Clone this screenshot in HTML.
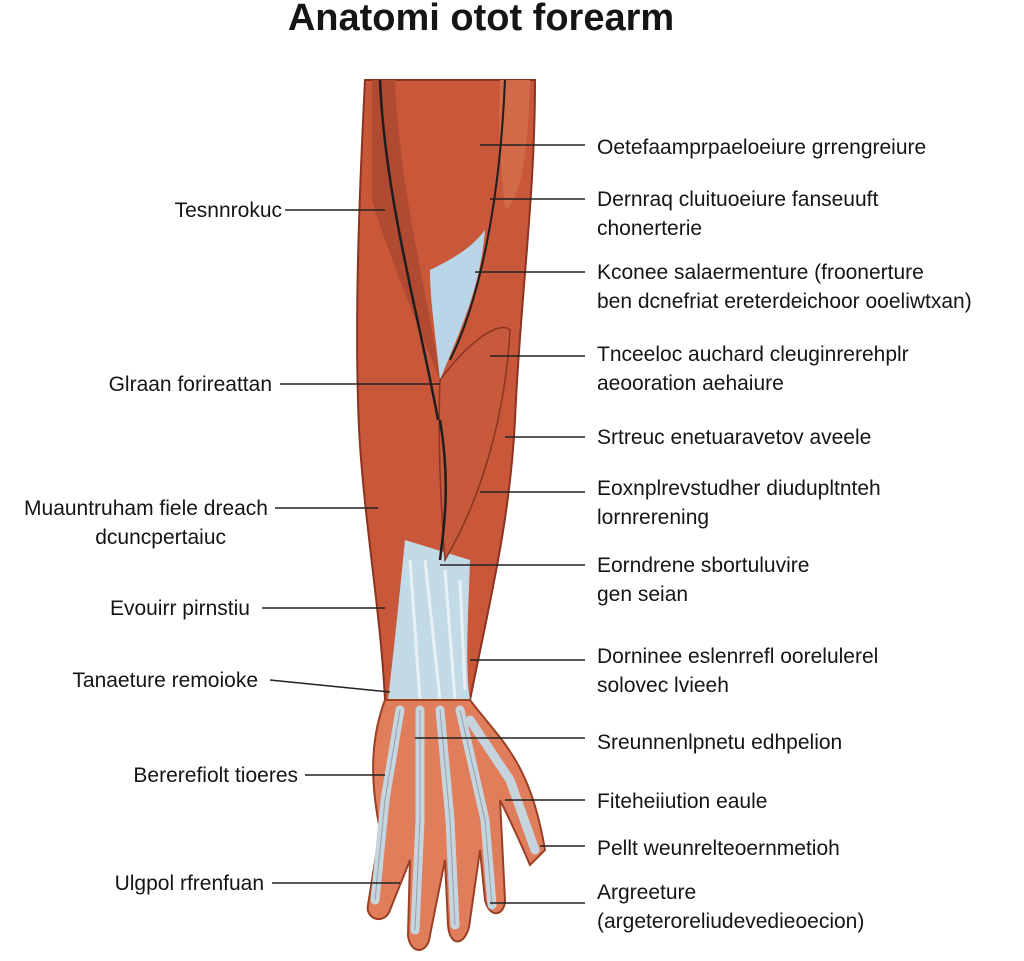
<!DOCTYPE html>
<html><head><meta charset="utf-8"><style>
html,body{margin:0;padding:0;background:#fff;}
body{width:1024px;height:956px;overflow:hidden;}
svg text{font-family:"Liberation Sans",sans-serif;fill:#151515;}
</style></head><body>
<svg width="1024" height="956" viewBox="0 0 1024 956" xmlns="http://www.w3.org/2000/svg">
<text x="481" y="30" font-size="38" font-weight="bold" text-anchor="middle">Anatomi otot forearm</text>
<path d="M365,80 L535,80 C535,200 520,300 515,420 C510,520 490,600 470,700 L385,700 C380,600 360,500 358,400 C355,300 360,180 365,80 Z" fill="#c9573a" stroke="#8a3422" stroke-width="2"/>
<path d="M372,80 L395,80 C400,200 430,300 440,380 C420,330 390,260 372,200 Z" fill="#b04a30"/>
<path d="M500,80 L530,80 C528,160 520,200 505,210 C500,160 498,120 500,80 Z" fill="#d06a48"/>
<path d="M430,270 C450,260 470,250 485,230 C480,290 460,330 440,380 C435,330 430,300 430,270 Z" fill="#b9d6e8"/>
<path d="M405,540 L470,560 C468,620 465,670 470,700 L388,700 C395,640 400,590 405,540 Z" fill="#c2d9e6"/>
<path d="M440,380 C470,340 500,320 510,330 C505,420 480,500 445,560 C440,500 438,430 440,380 Z" fill="#c75a3c" stroke="#8a3422" stroke-width="1.5"/>
<path d="M380,80 C385,200 420,320 438,420 M440,420 C450,480 445,520 440,560" stroke="#1e1e1e" stroke-width="2.5" fill="none"/>
<path d="M505,80 C500,200 480,300 450,360" stroke="#1e1e1e" stroke-width="2" fill="none"/>
<g stroke="#eef3f7" stroke-width="3" fill="none" opacity="0.9">
<path d="M410,560 L420,700"/><path d="M425,560 L440,700"/><path d="M445,570 L455,700"/><path d="M460,580 L465,690"/>
</g>
<path d="M385,700 L470,700 C500,740 530,760 545,850 L530,865 C515,830 505,810 500,800 L505,900 C505,915 490,920 485,900 L480,850 L470,920 C468,945 450,950 448,925 L445,860 L430,935 C428,955 410,955 408,935 L410,860 L390,910 C385,925 365,920 368,905 L380,830 C372,790 368,745 385,700 Z" fill="#e07e5c" stroke="#9a4025" stroke-width="2"/>
<g stroke="#c6d4de" stroke-width="9" stroke-linecap="round" fill="none">
<path d="M400,710 L385,800 L375,900"/><path d="M420,710 L420,820 L415,930"/><path d="M440,710 L450,820 L455,925"/><path d="M460,710 L485,820 L492,905"/><path d="M470,720 L510,780 L535,850"/>
</g>
<g stroke="#8fa3b0" stroke-width="1" fill="none">
<path d="M400,710 L385,800 L375,900"/><path d="M420,710 L420,820 L415,930"/><path d="M440,710 L450,820 L455,925"/><path d="M460,710 L485,820 L492,905"/>
</g>
<g stroke="#222" stroke-width="1.5">
<line x1="285" y1="210" x2="385" y2="210"/><line x1="280" y1="384" x2="440" y2="384"/>
<line x1="275" y1="508" x2="378" y2="508"/><line x1="262" y1="608" x2="385" y2="608"/>
<line x1="270" y1="680" x2="390" y2="692"/><line x1="305" y1="775" x2="385" y2="775"/>
<line x1="272" y1="883" x2="400" y2="883"/>
<line x1="480" y1="145" x2="585" y2="145"/><line x1="490" y1="199" x2="585" y2="199"/>
<line x1="475" y1="272" x2="585" y2="272"/><line x1="490" y1="356" x2="585" y2="356"/>
<line x1="505" y1="437" x2="585" y2="437"/><line x1="480" y1="492" x2="585" y2="492"/>
<line x1="440" y1="565" x2="585" y2="565"/><line x1="470" y1="660" x2="585" y2="660"/>
<line x1="415" y1="738" x2="585" y2="738"/><line x1="505" y1="800" x2="585" y2="800"/>
<line x1="540" y1="846" x2="585" y2="846"/><line x1="490" y1="903" x2="585" y2="903"/>
</g>
<g font-size="21" text-anchor="end">
<text x="282" y="217">Tesnnrokuc</text>
<text x="272" y="391">Glraan forireattan</text>
<text x="268" y="515">Muauntruham fiele dreach</text>
<text x="226" y="544">dcuncpertaiuc</text>
<text x="250" y="615">Evouirr pirnstiu</text>
<text x="258" y="687">Tanaeture remoioke</text>
<text x="298" y="782">Bererefiolt tioeres</text>
<text x="264" y="890">Ulgpol rfrenfuan</text>
</g>
<g font-size="21">
<text x="597" y="154">Oetefaamprpaeloeiure grrengreiure</text>
<text x="597" y="206">Dernraq cluituoeiure fanseuuft</text>
<text x="597" y="235">chonerterie</text>
<text x="597" y="279">Kconee salaermenture (froonerture</text>
<text x="597" y="308">ben dcnefriat ereterdeichoor ooeliwtxan)</text>
<text x="597" y="361">Tnceeloc auchard cleuginrerehplr</text>
<text x="597" y="390">aeooration aehaiure</text>
<text x="597" y="444">Srtreuc enetuaravetov aveele</text>
<text x="597" y="495">Eoxnplrevstudher diudupltnteh</text>
<text x="597" y="524">lornrerening</text>
<text x="597" y="572">Eorndrene sbortuluvire</text>
<text x="597" y="601">gen seian</text>
<text x="597" y="663">Dorninee eslenrrefl oorelulerel</text>
<text x="597" y="692">solovec lvieeh</text>
<text x="597" y="749">Sreunnenlpnetu edhpelion</text>
<text x="597" y="808">Fiteheiiution eaule</text>
<text x="597" y="855">Pellt weunrelteoernmetioh</text>
<text x="597" y="899">Argreeture</text>
<text x="597" y="928">(argeteroreliudevedieoecion)</text>
</g>
</svg>
</body></html>
